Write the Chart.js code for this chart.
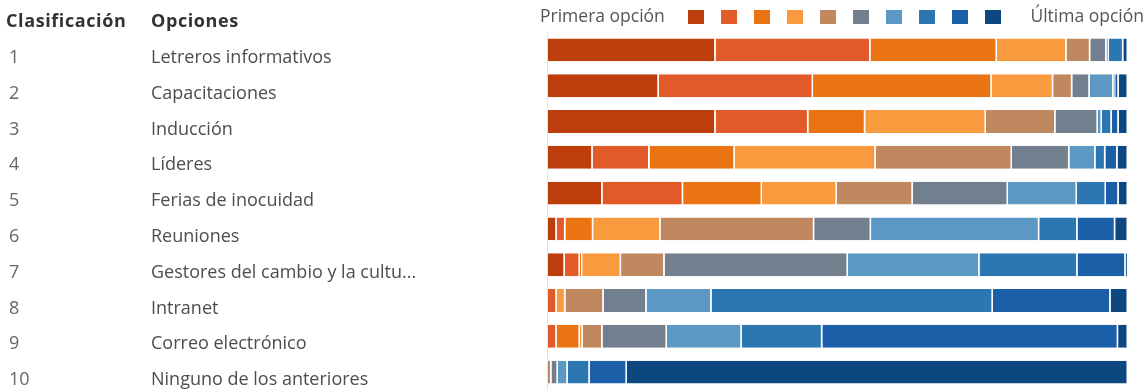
<!DOCTYPE html>
<html>
<head>
<meta charset="utf-8">
<script src="https://cdn.jsdelivr.net/npm/chart.js@4"></script>
<style>
  html, body { margin: 0; padding: 0; background: #ffffff; overflow: hidden; }
  #wrap { width: 1148px; height: 390px; position: relative; }
</style>
</head>
<body>
<div id="wrap"><canvas id="rankChart"></canvas></div>
<script>
// Options in ranked order
const ranks = ["1", "2", "3", "4", "5", "6", "7", "8", "9", "10"];
const options = [
  "Letreros informativos",
  "Capacitaciones",
  "Inducción",
  "Líderes",
  "Ferias de inocuidad",
  "Reuniones",
  "Gestores del cambio y la cultu...",
  "Intranet",
  "Correo electrónico",
  "Ninguno de los anteriores"
];

// Share of answers per rank position (%), one array per position
const rank1 = [28.9, 19.1, 28.9, 7.7, 9.4, 1.5, 2.9, 0, 0, 0];
const rank2 = [26.7, 26.6, 16.0, 9.8, 13.9, 1.5, 2.6, 1.5, 1.5, 0];
const rank3 = [21.8, 30.8, 9.8, 14.7, 13.6, 4.8, 0.4, 0, 4.0, 0];
const rank4 = [12.0, 10.6, 20.8, 24.3, 12.9, 11.6, 6.7, 1.5, 0.5, 0];
const rank5 = [4.1, 3.3, 12.0, 23.5, 13.1, 26.5, 7.5, 6.6, 3.4, 0.6];
const rank6 = [2.8, 3.0, 7.3, 9.9, 16.4, 9.8, 31.6, 7.4, 11.1, 1.1];
const rank7 = [0.4, 4.1, 0.7, 4.5, 11.9, 29.0, 22.7, 11.2, 12.9, 1.7];
const rank8 = [2.5, 0.3, 1.7, 1.7, 5.0, 6.6, 16.9, 48.5, 13.9, 3.8];
const rank9 = [0, 0.6, 1.2, 2.1, 2.2, 6.5, 8.3, 20.3, 51.0, 6.4];
const rank10 = [0.8, 1.6, 1.6, 1.8, 1.6, 2.2, 0.4, 3.0, 1.7, 86.4];

const rankColors = [
  "#bd3e0a", "#e2592a", "#ea7412", "#f99a3e", "#c0885e",
  "#717f8e", "#5c98c4", "#2c77b2", "#1c5fa9", "#0c487f"
];

const series = [rank1, rank2, rank3, rank4, rank5, rank6, rank7, rank8, rank9, rank10];

// left table, legend and axis line
const sidePlugin = {
  id: "side",
  afterDraw(chart) {
    const { ctx, chartArea, scales } = chart;
    const y = scales.y;
    ctx.save();

    // axis line
    ctx.strokeStyle = "#e3e3e3";
    ctx.lineWidth = 1;
    ctx.beginPath();
    ctx.moveTo(chartArea.left - 0.5, chartArea.top);
    ctx.lineTo(chartArea.left - 0.5, chartArea.bottom);
    ctx.stroke();

    // header
    ctx.textBaseline = "middle";
    ctx.textAlign = "left";
    ctx.fillStyle = "#333333";
    ctx.font = "bold 18px 'Open Sans'";
    ctx.letterSpacing = "0.6px";
    ctx.fillText("Clasificación", 6, 22);
    ctx.fillText("Opciones", 151, 22);
    ctx.letterSpacing = "0px";

    // rows
    ctx.font = "18px 'Open Sans'";
    options.forEach((opt, i) => {
      const py = y.getPixelForValue(i) + 8;
      ctx.fillStyle = "#666666";
      ctx.fillText(ranks[i], 9, py);
      ctx.fillStyle = "#4d4d4d";
      ctx.fillText(opt, 151, py);
    });

    // legend
    ctx.fillStyle = "#555555";
    ctx.font = "17.5px 'Open Sans'";
    ctx.fillText("Primera opción", 540, 17);
    rankColors.forEach((c, i) => {
      ctx.fillStyle = c;
      ctx.fillRect(688 + i * 33, 10, 16, 14);
    });
    ctx.fillStyle = "#555555";
    ctx.textAlign = "right";
    ctx.fillText("Última opción", 1144, 17);
    ctx.restore();
  }
};

new Chart(document.getElementById("rankChart"), {
  type: "bar",
  data: {
    labels: options,
    datasets: series.map((d, i) => ({
      label: "Posición " + (i + 1),
      data: d,
      backgroundColor: rankColors[i],
      borderColor: "#ffffff",
      borderWidth: { left: 0, right: 1.5, top: 0, bottom: 0 },
      borderSkipped: false,
      barPercentage: 0.64,
      categoryPercentage: 1
    }))
  },
  options: {
    indexAxis: "y",
    responsive: true,
    maintainAspectRatio: false,
    animation: false,
    layout: { padding: { left: 548, right: 20, top: 32, bottom: 0 } },
    plugins: {
      legend: { display: false },
      tooltip: { enabled: false }
    },
    scales: {
      x: { stacked: true, min: 0, max: 100, display: false },
      y: { stacked: true, display: false }
    }
  },
  plugins: [sidePlugin]
});
</script>
</body>
</html>
